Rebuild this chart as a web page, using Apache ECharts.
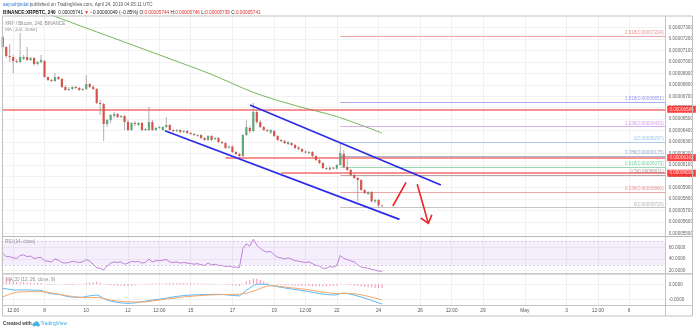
<!DOCTYPE html>
<html>
<head>
<meta charset="utf-8">
<script src="https://cdn.jsdelivr.net/npm/echarts@6/dist/echarts.min.js"></script>
<style>
  html, body { margin: 0; padding: 0; background: #fff; }
  #chart { width: 696px; height: 330px; }
</style>
</head>
<body>
<div id="chart"></div>
<script>
// XRP/BTC, 4h candles from 6 April 2019 00:00 UTC, prices in satoshi (1e-8 BTC)
// each row: [open, close, low, high]
const ohlc = [
  [7219, 7131, 7105, 7236], [7131, 7052, 7035, 7140], [7052, 7043, 7000, 7157], [7043, 7008, 6903, 7061],
  [7008, 7000, 6991, 7026], [7000, 7043, 6991, 7254], [7026, 7043, 7017, 7061], [7043, 7017, 7008, 7131],
  [7017, 7035, 7008, 7043], [7035, 6982, 6965, 7043], [6982, 7000, 6973, 7008], [7000, 7017, 6991, 7061],
  [7008, 6868, 6860, 7017], [6868, 6842, 6833, 6877], [6842, 6833, 6825, 6851], [6833, 6868, 6825, 6903],
  [6868, 6851, 6842, 6877], [6851, 6781, 6772, 6860], [6781, 6755, 6746, 6798], [6755, 6763, 6746, 6781],
  [6763, 6781, 6755, 6790], [6781, 6772, 6763, 6790], [6772, 6755, 6746, 6781], [6755, 6763, 6746, 6772],
  [6763, 6807, 6755, 6886], [6807, 6781, 6772, 6816], [6781, 6763, 6755, 6798], [6763, 6641, 6632, 6772],
  [6641, 6632, 6536, 6667], [6632, 6457, 6308, 6641], [6457, 6492, 6430, 6501], [6492, 6536, 6466, 6544],
  [6527, 6544, 6509, 6562], [6544, 6518, 6509, 6553], [6518, 6527, 6509, 6536], [6527, 6474, 6404, 6536],
  [6474, 6404, 6395, 6492], [6404, 6466, 6395, 6474], [6466, 6457, 6439, 6483], [6448, 6466, 6439, 6474],
  [6466, 6404, 6395, 6474], [6404, 6413, 6395, 6422], [6404, 6474, 6395, 6606], [6474, 6404, 6395, 6492],
  [6404, 6422, 6395, 6430], [6422, 6430, 6413, 6439], [6404, 6430, 6395, 6439], [6430, 6448, 6422, 6518],
  [6448, 6404, 6395, 6457], [6404, 6395, 6387, 6413], [6395, 6404, 6387, 6413], [6404, 6387, 6378, 6413],
  [6387, 6395, 6378, 6404], [6395, 6378, 6369, 6404], [6378, 6369, 6360, 6387], [6369, 6360, 6352, 6378],
  [6356, 6360, 6343, 6369], [6360, 6334, 6325, 6369], [6334, 6317, 6308, 6343], [6317, 6352, 6308, 6360],
  [6352, 6317, 6308, 6360], [6325, 6334, 6317, 6343], [6334, 6299, 6290, 6343], [6299, 6290, 6282, 6308],
  [6290, 6247, 6238, 6299], [6251, 6260, 6243, 6268], [6260, 6212, 6203, 6268], [6212, 6194, 6185, 6220],
  [6194, 6176, 6159, 6203], [6176, 6360, 6168, 6369], [6360, 6430, 6352, 6492], [6422, 6395, 6378, 6439],
  [6395, 6562, 6387, 6641], [6562, 6474, 6457, 6579], [6474, 6430, 6422, 6492], [6430, 6404, 6395, 6439],
  [6404, 6395, 6387, 6413], [6382, 6404, 6369, 6413], [6395, 6352, 6343, 6404], [6352, 6317, 6308, 6360],
  [6317, 6308, 6299, 6325], [6308, 6290, 6282, 6317], [6282, 6299, 6273, 6308], [6290, 6273, 6264, 6299],
  [6273, 6247, 6238, 6282], [6251, 6238, 6225, 6264], [6238, 6216, 6207, 6245], [6216, 6207, 6198, 6225],
  [6203, 6212, 6194, 6220], [6212, 6176, 6168, 6220], [6176, 6141, 6133, 6185], [6141, 6115, 6106, 6150],
  [6115, 6071, 6063, 6124], [6071, 6063, 6054, 6080], [6058, 6076, 6050, 6085], [6076, 6067, 6058, 6080],
  [6067, 6098, 6058, 6106], [6098, 6203, 6089, 6297], [6194, 6080, 6071, 6229], [6080, 6054, 6045, 6150],
  [6054, 6010, 6001, 6063], [6010, 5984, 5975, 6019], [5984, 5966, 5776, 5993], [5966, 5879, 5870, 5975],
  [5879, 5853, 5844, 5888], [5844, 5861, 5835, 5870], [5861, 5780, 5771, 5870], [5780, 5791, 5765, 5800],
  [5791, 5745, 5725, 5800], [5744, 5741, 5739, 5746]
];

// 100-period moving average of the close, sampled once a day
const maIndex = [0, 12, 24, 36, 48, 60, 72, 84, 96, 109];
const maValue = [7568, 7433, 7297, 7163, 7028, 6891, 6734, 6619, 6522, 6378];

// RSI (14)
const rsi = [
  50, 44, 44, 42, 41, 46, 47, 44, 45, 41, 42, 43,
  37, 36, 35, 40, 38, 34, 33, 34,
  36, 35, 34, 35, 39, 36, 31,
  25, 24, 21, 28, 33, 35, 34, 35, 31,
  33, 36, 35, 36, 33, 34, 40, 35, 37, 37, 38, 39, 35,
  34, 35, 33, 34, 33, 32, 31, 32, 30, 29, 33, 30, 31, 29, 29, 27, 28, 26, 26, 25,
  58, 66, 62, 74, 64, 58, 54, 52, 53, 47,
  43, 42, 40, 42, 40, 37, 36, 35, 34, 35, 32, 29, 28, 24, 24, 27, 26, 29,
  46, 41, 39, 37, 35, 30, 26, 25, 24, 22, 21, 19, 19
];

// MACD (12, 26, 9), satoshi
const macd = [
  -2.7, -3.0, -3.4, -3.7, -3.8, -3.8, -3.7, -3.7, -3.8, -3.9, -3.9, -4.0,
  -5.0, -5.8, -6.3, -6.5, -6.6, -7.2,
  -7.8, -8.3, -8.5, -8.6, -8.7, -8.6, -8.1, -7.7, -7.4,
  -7.1, -8.0, -9.5, -10.5, -11.2, -11.7, -12.1, -12.4, -12.6,
  -12.7, -12.6, -12.4, -12.1, -11.7, -11.3, -10.8, -10.5, -10.2, -10.0,
  -9.6, -9.2, -8.8, -8.4, -8.1, -7.8, -7.5, -7.3, -7.2, -7.1,
  -7.0, -6.9, -6.8, -6.8, -6.7, -6.7, -6.7, -6.8, -7.0, -7.2, -7.4, -7.6, -7.7,
  -6.0, -4.0, -2.5, -0.8, 0.0, 0.1, 0.0, -0.2,
  -0.8, -1.2, -1.6, -2.0, -2.4, -2.8, -3.1, -3.5, -3.8,
  -4.2, -4.5, -4.9, -5.3, -5.7, -6.1, -6.5, -6.8, -7.0, -7.1, -7.0,
  -6.2, -6.0, -6.2, -6.6, -7.2, -7.8, -8.5, -9.2, -10.0, -10.8, -11.6, -12.4, -13.1
];
const signal = [
  -8.3, -7.5, -6.6, -5.9, -5.3, -5.1, -5.0, -4.9, -4.9, -4.9, -4.9, -4.9,
  -5.1, -5.4, -5.8, -6.2, -6.6, -7.0,
  -7.4, -7.8, -8.1, -8.4, -8.6, -8.8, -8.9, -8.9, -8.8,
  -8.8, -9.0, -9.4, -10.0, -10.5, -10.9, -11.2, -11.4, -11.5,
  -11.6, -11.7, -11.8, -11.8, -11.8, -11.7, -11.4, -11.1, -10.8, -10.5,
  -10.2, -9.9, -9.6, -9.3, -9.0, -8.7, -8.4, -8.2, -8.0, -7.8,
  -7.6, -7.5, -7.3, -7.2, -7.1, -7.0, -6.9, -6.8, -6.8, -6.7, -6.7, -6.7, -6.6,
  -6.4, -6.0, -5.4, -4.6, -3.7, -2.8, -2.0, -1.3,
  -0.9, -1.0, -1.2, -1.5, -1.8, -2.1, -2.4, -2.6, -2.8,
  -3.1, -3.4, -3.7, -4.0, -4.4, -4.8, -5.2, -5.5, -5.8, -6.0, -6.1,
  -6.1, -6.0, -6.0, -6.1, -6.3, -6.6, -7.0, -7.5, -8.0, -8.6, -9.2, -9.9, -10.5
];
const histogram = [
  5.6, 4.5, 3.2, 2.2, 1.5, 1.3, 1.3, 1.2, 1.1, 1.0, 1.0, 0.9,
  0.1, -0.4, -0.5, -0.3, 0.0, -0.2,
  -0.4, -0.5, -0.4, -0.2, -0.1, 0.2, 0.8, 1.2, 1.4,
  1.7, 1.0, -0.1, -0.5, -0.7, -0.8, -0.9, -1.0, -1.1,
  -1.1, -0.9, -0.6, -0.3, 0.1, 0.4, 0.6, 0.6, 0.6, 0.5,
  0.6, 0.7, 0.8, 0.9, 0.9, 0.9, 0.9, 0.9, 0.8, 0.7,
  0.6, 0.6, 0.5, 0.4, 0.4, 0.3, 0.2, 0.0, -0.2, -0.5, -0.7, -0.9, -1.1,
  0.4, 2.0, 2.9, 3.8, 3.7, 2.9, 2.0, 1.1,
  0.1, -0.2, -0.4, -0.5, -0.6, -0.7, -0.7, -0.9, -1.0,
  -1.1, -1.1, -1.2, -1.3, -1.3, -1.3, -1.3, -1.3, -1.2, -1.1, -0.9,
  -0.1, 0.0, -0.2, -0.5, -0.9, -1.2, -1.5, -1.7, -2.0, -2.2, -2.4, -2.5, -2.6
];

// time scale: 4h slots from 6 April 00:00 to 7 May 16:00
const slotCount = 191;
const timeLabelIdx = [3, 12, 24, 36, 45, 54, 66, 78, 87, 96, 108, 120, 129, 138, 150, 162, 171, 180];
const timeLabels = ['12:00', '8', '10', '12', '12:00', '15', '17', '19', '12:00', '22', '24', '26', '12:00', '29', 'May', '3', '12:00', '6'];

// axis ticks
const priceTicks = [5500, 5600, 5700, 5800, 5900, 6000, 6100, 6200, 6300, 6400, 6500, 6600, 6700, 6800, 6900, 7000, 7100, 7200, 7300];
const rsiTicks = [20, 40, 60];
const macdTicks = [-10, 0];

// horizontal support / resistance levels and the slot where each starts
const levelPrice = [6586, 6162, 6026];
const levelStart = [0, 64, 80];

// Fibonacci extension drawn from the swing high on 22 April
const fibStart = 97;
const fibRatios = ['2.618', '1.618', '1.236', '1', '0.786', '0.618', '0.5', '0.236', '0'];
const fibPrices = [7224, 6651, 6433, 6297, 6175, 6079, 6011, 5860, 5725];
const fibColors = ['#e06c6c', '#7070ee', '#c07ae0', '#78b0e8', '#6a8db3', '#4fbf82', '#8a6a6a', '#e06c6c', '#9a9a9a'];

// descending channel and projected move, [slot, price]
const channelUpper = [[71.05, 6623], [125.9, 5923]];
const channelLower = [[46.6, 6398], [114.0, 5622]];
const bounceStroke = [[112.1, 5739], [115.9, 5946]];
const dropArrow = [[119.1, 5929], [122.3, 5587]];
const dropArrowHead = [[120.1, 5634], [122.3, 5587], [123.3, 5662]];

const lastPrice = ohlc[ohlc.length - 1][1];
const barCountdown = '03:54:54';

const FONT = "'Liberation Sans', Arial, sans-serif";
const satToBtc = (v, d) => (v / 1e8).toFixed(d);
const UP = '#5ea77f', DOWN = '#d6544a', WICK = '#8e8e8e';

function renderCandle(params, api) {
  const i = api.value(0);
  const o = api.value(1), c = api.value(2), l = api.value(3), h = api.value(4);
  const pO = api.coord([i, o]);
  const pC = api.coord([i, c]);
  const pL = api.coord([i, l]);
  const pH = api.coord([i, h]);
  const half = 1.1;
  const top = Math.min(pO[1], pC[1]);
  const height = Math.max(Math.abs(pO[1] - pC[1]), 0.9);
  return {
    type: 'group',
    children: [
      { type: 'line', shape: { x1: pL[0], y1: pL[1], x2: pH[0], y2: pH[1] },
        style: { stroke: WICK, lineWidth: 0.7 } },
      { type: 'rect', shape: { x: pO[0] - half, y: top, width: half * 2, height: height },
        style: { fill: c >= o ? UP : DOWN } }
    ]
  };
}

const plotLeft = 1, plotWidth = 664.7;
const grids = [
  { left: plotLeft, width: plotWidth, top: 16, height: 220 },
  { left: plotLeft, width: plotWidth, top: 237, height: 36.5 },
  { left: plotLeft, width: plotWidth, top: 274, height: 31 }
];

function timeAxis(gridIndex, withLabels) {
  return {
    type: 'value', gridIndex: gridIndex, min: -0.5, max: slotCount - 0.5,
    axisLine: { show: false },
    axisTick: { show: false, customValues: timeLabelIdx },
    axisLabel: {
      show: withLabels, customValues: timeLabelIdx, fontSize: 4.8, fontFamily: FONT,
      color: '#555', margin: 3.5,
      formatter: v => { const k = timeLabelIdx.indexOf(Math.round(v)); return k >= 0 ? timeLabels[k] : ''; }
    },
    splitLine: { show: true, lineStyle: { color: '#ededed', width: 0.8 } }
  };
}

function valueAxis(gridIndex, min, max, ticks, fmt) {
  return {
    type: 'value', gridIndex: gridIndex, position: 'right', min: min, max: max,
    axisLine: { show: true, lineStyle: { color: '#c4c4c4', width: 1 } },
    axisTick: { show: false, customValues: ticks },
    axisLabel: { customValues: ticks, formatter: fmt, fontSize: 4.6, fontFamily: FONT, color: '#666', margin: 3 },
    splitLine: { show: true, lineStyle: { color: '#efefef', width: 0.8 } }
  };
}

const levelMarks = levelPrice.map((p, k) => [
  { coord: [levelStart[k], p] },
  { coord: [slotCount - 0.5, p] }
]);

const fibMarks = fibPrices.map((p, k) => [
  { coord: [fibStart, p],
    lineStyle: { color: fibColors[k], width: 0.8, opacity: 0.75, type: 'solid' },
    label: { color: fibColors[k] } },
  { coord: [slotCount - 0.5, p] }
]);

const option = {
  animation: false,
  backgroundColor: '#ffffff',
  textStyle: { fontFamily: FONT },
  grid: grids,
  xAxis: [
    timeAxis(0, false),
    timeAxis(1, false),
    timeAxis(2, true),
    { type: 'value', gridIndex: 0, min: -0.5, max: slotCount - 0.5, show: false }
  ],
  yAxis: [
    valueAxis(0, 5476.4, 7402.5, priceTicks, v => satToBtc(v, 8)),
    valueAxis(1, 15, 77.9, rsiTicks, v => v.toFixed(4)),
    valueAxis(2, -13.8, 6.87, macdTicks, v => satToBtc(v, 4))
  ],
  series: [
    {
      name: 'MA 100', type: 'line', xAxisIndex: 0, yAxisIndex: 0,
      data: maIndex.map((x, k) => [x, maValue[k]]),
      smooth: 0.3, showSymbol: false, clip: true,
      lineStyle: { color: '#76b85a', width: 1 }, z: 3
    },
    {
      name: 'Fibonacci', type: 'line', xAxisIndex: 3, yAxisIndex: 0, data: [],
      markLine: {
        silent: true, symbol: ['none', 'none'],
        lineStyle: { type: 'solid' },
        label: {
          position: 'insideEndTop', fontSize: 4.6, fontFamily: FONT, distance: [2, 0.8],
          formatter: p => fibRatios[p.dataIndex] + '(' + satToBtc(fibPrices[p.dataIndex], 8) + ')'
        },
        data: fibMarks
      },
      z: 2
    },
    {
      name: 'Levels', type: 'line', xAxisIndex: 3, yAxisIndex: 0, data: [],
      markLine: {
        silent: true, symbol: ['none', 'none'],
        lineStyle: { color: '#f24a4a', width: 1.6, type: 'solid', opacity: 0.8 },
        label: {
          position: 'end', distance: 1.5, fontSize: 4.6, fontFamily: FONT,
          color: '#fff', backgroundColor: '#ff1010', padding: [1, 2.2],
          formatter: p => satToBtc(levelPrice[p.dataIndex], 8)
        },
        data: levelMarks
      },
      z: 4
    },
    {
      name: 'XRPBTC', type: 'custom', xAxisIndex: 0, yAxisIndex: 0,
      renderItem: renderCandle, clip: true,
      encode: { x: 0, y: [1, 2, 3, 4] },
      data: ohlc.map((d, i) => [i, d[0], d[1], d[2], d[3]]),
      markLine: {
        silent: true, symbol: ['none', 'none'],
        lineStyle: { opacity: 0 },
        label: {
          position: 'end', distance: 1.5, fontFamily: FONT, lineHeight: 6.6,
          formatter: () => '{a|' + satToBtc(lastPrice, 8) + '}\n{b|' + barCountdown + '}',
          rich: {
            a: { color: '#fff', backgroundColor: '#e0574c', fontSize: 4.6, padding: [1, 2.2], lineHeight: 6.6 },
            b: { color: '#fff', backgroundColor: '#d9534a', fontSize: 4.6, padding: [1, 3], lineHeight: 6.6 }
          }
        },
        data: [{ yAxis: lastPrice }]
      },
      z: 5
    },
    {
      name: 'Channel upper', type: 'line', xAxisIndex: 3, yAxisIndex: 0, data: channelUpper,
      showSymbol: false, lineStyle: { color: '#2c2ce8', width: 1.7 }, z: 6
    },
    {
      name: 'Channel lower', type: 'line', xAxisIndex: 3, yAxisIndex: 0, data: channelLower,
      showSymbol: false, lineStyle: { color: '#2c2ce8', width: 1.7 }, z: 6
    },
    {
      name: 'Bounce', type: 'line', xAxisIndex: 3, yAxisIndex: 0, data: bounceStroke,
      showSymbol: false, lineStyle: { color: '#ee2222', width: 1.6 }, z: 6
    },
    {
      name: 'Drop', type: 'line', xAxisIndex: 3, yAxisIndex: 0, data: dropArrow,
      showSymbol: false, lineStyle: { color: '#ee2222', width: 1.6 }, z: 6
    },
    {
      name: 'Drop head', type: 'line', xAxisIndex: 3, yAxisIndex: 0, data: dropArrowHead,
      showSymbol: false, lineStyle: { color: '#ee2222', width: 1.6, join: 'miter' }, z: 6
    },
    {
      name: 'RSI', type: 'line', xAxisIndex: 1, yAxisIndex: 1,
      data: rsi.map((v, i) => [i, v]),
      showSymbol: false, lineStyle: { color: '#b574d6', width: 0.9 },
      markArea: {
        silent: true,
        itemStyle: { color: 'rgba(160, 90, 230, 0.1)' },
        data: [[{ yAxis: 70 }, { yAxis: 30 }]]
      },
      markLine: {
        silent: true, symbol: ['none', 'none'], label: { show: false },
        lineStyle: { color: '#c8b6d6', type: [2, 2], width: 0.8 },
        data: [{ yAxis: 70 }, { yAxis: 30 }]
      },
      z: 3
    },
    {
      name: 'Histogram', type: 'bar', xAxisIndex: 2, yAxisIndex: 2,
      data: histogram.map((v, i) => [i, v]),
      barWidth: 1, itemStyle: { color: '#f48fb1' }, z: 2
    },
    {
      name: 'MACD', type: 'line', xAxisIndex: 2, yAxisIndex: 2,
      data: macd.map((v, i) => [i, v]),
      showSymbol: false, lineStyle: { color: '#5cb6f2', width: 1 }, z: 3
    },
    {
      name: 'Signal', type: 'line', xAxisIndex: 2, yAxisIndex: 2,
      data: signal.map((v, i) => [i, v]),
      showSymbol: false, lineStyle: { color: '#f6a768', width: 1 }, z: 3
    }
  ],
  graphic: [
    // outer frame and pane separators
    { type: 'rect', shape: { x: 2.5, y: 16, width: 690, height: 300 },
      style: { fill: 'none', stroke: '#c0c0c0', lineWidth: 1 }, z: 10, silent: true },
    { type: 'line', shape: { x1: 2.5, y1: 236.5, x2: 692.5, y2: 236.5 },
      style: { stroke: '#b8b8b8', lineWidth: 1.2 }, z: 10, silent: true },
    { type: 'line', shape: { x1: 2.5, y1: 273.8, x2: 692.5, y2: 273.8 },
      style: { stroke: '#b8b8b8', lineWidth: 1.2 }, z: 10, silent: true },
    { type: 'line', shape: { x1: 2.5, y1: 305.5, x2: 692.5, y2: 305.5 },
      style: { stroke: '#c4c4c4', lineWidth: 1 }, z: 10, silent: true },
    { type: 'line', shape: { x1: 665.5, y1: 16, x2: 665.5, y2: 316 },
      style: { stroke: '#c4c4c4', lineWidth: 1 }, z: 10, silent: true },
    // publication header
    { type: 'text', left: 3, top: 2.3, silent: true,
      style: {
        text: '{u|aayushjindal} published on TradingView.com, April 24, 2019 04:05:11 UTC',
        font: '4.6px ' + FONT, fill: '#555',
        rich: { u: { fill: '#2f7fd6', fontSize: 4.6 } }
      } },
    { type: 'text', left: 3, top: 9.8, silent: true,
      style: {
        text: '{b|BINANCE:XRPBTC, 240}  0.00005741 {r|\u25BC} \u22120.00000049 (\u22120.85%) O:{r|0.00005744} H:{r|0.00005746} L:{r|0.00005739} C:{r|0.00005741}',
        font: '4.7px ' + FONT, fill: '#222',
        rich: {
          b: { fontWeight: 'bold', fill: '#111', fontSize: 4.7 },
          r: { fill: '#e02a2a', fontSize: 4.7 }
        }
      } },
    // pane titles
    { type: 'text', left: 5, top: 21, silent: true,
      style: { text: 'XRP / Bitcoin, 240, BINANCE', font: '4.6px ' + FONT, fill: '#8a8a8a' } },
    { type: 'text', left: 5, top: 27.3, silent: true,
      style: { text: 'MA (100, close)', font: '4.6px ' + FONT, fill: '#9a9a9a' } },
    { type: 'text', left: 5, top: 239.5, silent: true,
      style: { text: 'RSI (14, close)', font: '4.6px ' + FONT, fill: '#8a8a8a' } },
    { type: 'text', left: 6, top: 277.5, silent: true,
      style: { text: 'MACD (12, 26, close, 9)', font: '4.6px ' + FONT, fill: '#8a8a8a' } },
    // footer
    { type: 'text', left: 3, top: 321.5, silent: true,
      style: { text: 'Created with', font: 'bold 4.8px ' + FONT, fill: '#444' } },
    { type: 'circle', shape: { cx: 34.2, cy: 324.6, r: 1.8 }, style: { fill: '#45b0e6' }, silent: true },
    { type: 'circle', shape: { cx: 36.6, cy: 323.6, r: 2.3 }, style: { fill: '#45b0e6' }, silent: true },
    { type: 'circle', shape: { cx: 38.4, cy: 325, r: 1.5 }, style: { fill: '#45b0e6' }, silent: true },
    { type: 'text', left: 40.5, top: 321.5, silent: true,
      style: { text: 'TradingView', font: '4.8px ' + FONT, fill: '#3aa8e0' } }
  ]
};

const chart = echarts.init(document.getElementById('chart'), null, { renderer: 'canvas' });
chart.setOption(option);
</script>
</body>
</html>
